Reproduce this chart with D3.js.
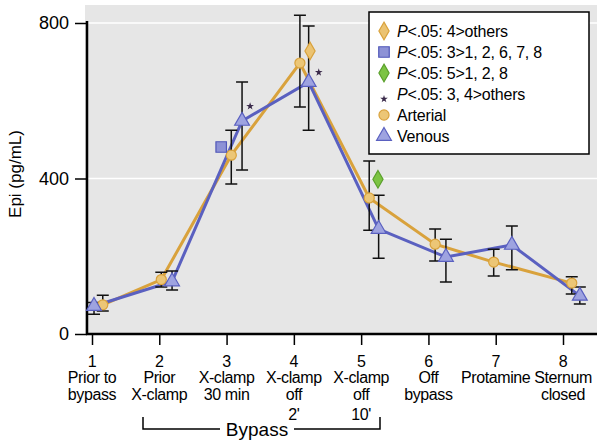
<!DOCTYPE html>
<html lang="en">
  <head>
    <meta charset="UTF-8" />
    <script src="https://d3js.org/d3.v7.min.js"></script>
    <style>
      body { margin: 0; background: #fff; }
      text { font-family: "Liberation Sans", Arial, sans-serif; }
    </style>
  </head>
  <body>
    <script>
      // time points and their labels
      var timepoints = [1, 2, 3, 4, 5, 6, 7, 8]
      var tickLines = [
        ['Prior to', 'bypass'],
        ['Prior', 'X-clamp'],
        ['X-clamp', '30 min'],
        ['X-clamp', 'off', "2'"],
        ['X-clamp', 'off', "10'"],
        ['Off', 'bypass'],
        ['Protamine'],
        ['Sternum', 'closed']
      ]
      var yTicks = [0, 400, 800]

      // arterial series (mean and error bar ends), slightly jittered in x
      var arterialX = [1.16, 2.03, 3.07, 4.09, 5.12, 6.1, 6.97, 8.13]
      var arterialMean = [75, 140, 460, 697, 350, 231, 185, 131]
      var arterialLow = [59, 121, 386, 584, 267, 188, 149, 103]
      var arterialHigh = [100, 159, 524, 820, 445, 270, 218, 147]

      // venous series
      var venousX = [1.03, 2.19, 3.23, 4.22, 5.26, 6.26, 7.24, 8.25]
      var venousMean = [72, 135, 548, 648, 270, 198, 229, 98]
      var venousLow = [51, 113, 422, 524, 195, 134, 165, 77]
      var venousHigh = [81, 162, 648, 792, 357, 244, 278, 121]

      // significance markers: [x, value]
      var diamond4 = [[4.24, 728]]
      var square3 = [[2.92, 481]]
      var diamond5 = [[5.25, 398]]
      var stars = [[3.35, 586], [4.37, 673]]

      var legendItems = [
        { type: 'diamondO', text: '<.05: 4>others', p: true },
        { type: 'square', text: '<.05: 3>1, 2, 6, 7, 8', p: true },
        { type: 'diamondG', text: '<.05: 5>1, 2, 8', p: true },
        { type: 'star', text: '<.05: 3, 4>others', p: true },
        { type: 'circle', text: 'Arterial', p: false },
        { type: 'triangle', text: 'Venous', p: false }
      ]

      var orange = '#d9a23c'
      var orangeFill = '#ecc676'
      var blue = '#5a60c0'
      var blueFill = '#9ea3e0'

      var width = 597
      var height = 440

      var svg = d3.select('body').append('svg')
        .attr('width', width).attr('height', height)

      var x = d3.scaleLinear().domain([1, 8]).range([92, 563])
      var y = d3.scaleLinear().domain([0, 800]).range([334, 23])

      // plot background
      svg.append('rect')
        .attr('x', 85).attr('y', 5)
        .attr('width', width - 85).attr('height', 334 - 5)
        .attr('fill', '#e6e6e6')

      // gridlines
      svg.selectAll('.grid').data([400, 800]).enter().append('line')
        .attr('x1', 87).attr('x2', width)
        .attr('y1', function (d) { return y(d) }).attr('y2', function (d) { return y(d) })
        .attr('stroke', '#fff').attr('stroke-width', 1.5)

      // y axis
      var yAxis = d3.axisLeft(y).tickValues(yTicks).tickSize(12).tickPadding(6)
      var gy = svg.append('g').attr('transform', 'translate(87,0)').call(yAxis)
      gy.select('.domain').remove()
      gy.selectAll('line').attr('stroke', '#000').attr('stroke-width', 1.5)
      gy.selectAll('text').attr('font-size', 18).attr('fill', '#000')
        .style('font-family', '"Liberation Sans", Arial, sans-serif')
      svg.append('line').attr('x1', 87).attr('x2', 87)
        .attr('y1', y(800) - 2).attr('y2', y(0) + 1)
        .attr('stroke', '#000').attr('stroke-width', 2.5)

      // x axis
      var xAxis = d3.axisBottom(x).tickValues(timepoints).tickSize(11).tickFormat('')
      var gx = svg.append('g').attr('transform', 'translate(0,334)').call(xAxis)
      gx.select('.domain').remove()
      gx.selectAll('line').attr('stroke', '#000').attr('stroke-width', 1.5)
      svg.append('line').attr('x1', 86).attr('x2', width)
        .attr('y1', 334).attr('y2', 334)
        .attr('stroke', '#000').attr('stroke-width', 2.5)

      var lineBase = [367, 383, 400, 420]
      timepoints.forEach(function (t, i) {
        var g = svg.append('g').attr('text-anchor', 'middle').attr('font-size', 16)
          .attr('letter-spacing', -0.4)
        g.append('text').attr('x', x(t)).attr('y', lineBase[0]).text(t)
        tickLines[i].forEach(function (s, j) {
          g.append('text').attr('x', x(t)).attr('y', lineBase[j + 1]).text(s)
        })
      })

      // Bypass bracket
      svg.append('path')
        .attr('d', 'M143,417V429H220M294,429H380V417')
        .attr('fill', 'none').attr('stroke', '#000').attr('stroke-width', 1.5)
      svg.append('text').attr('x', 257).attr('y', 436)
        .attr('text-anchor', 'middle').attr('font-size', 19).text('Bypass')

      // panel letter, cut by the lower edge as in the source figure
      svg.append('text').attr('x', 14).attr('y', 452)
        .attr('font-size', 17).attr('font-weight', 'bold').text('A')

      // y title
      svg.append('text')
        .attr('transform', 'translate(21,174) rotate(-90)')
        .attr('text-anchor', 'middle').attr('font-size', 17)
        .text('Epi (pg/mL)')

      function series(xs, ms) {
        return xs.map(function (v, i) { return [v, ms[i]] })
      }
      var art = series(arterialX, arterialMean)
      var ven = series(venousX, venousMean)

      var line = d3.line()
        .x(function (d) { return x(d[0]) })
        .y(function (d) { return y(d[1]) })

      svg.append('path').datum(art).attr('d', line)
        .attr('fill', 'none').attr('stroke', orange).attr('stroke-width', 3)
      svg.append('path').datum(ven).attr('d', line)
        .attr('fill', 'none').attr('stroke', blue).attr('stroke-width', 3)

      // error bars
      function errorBars(xs, lo, hi) {
        var g = svg.append('g').attr('stroke', '#111').attr('stroke-width', 1.5).attr('fill', 'none')
        xs.forEach(function (v, i) {
          var cx = x(v)
          g.append('path').attr('d',
            'M' + (cx - 6) + ',' + y(hi[i]) + 'H' + (cx + 6) +
            'M' + cx + ',' + y(hi[i]) + 'V' + y(lo[i]) +
            'M' + (cx - 6) + ',' + y(lo[i]) + 'H' + (cx + 6))
        })
      }
      errorBars(arterialX, arterialLow, arterialHigh)
      errorBars(venousX, venousLow, venousHigh)

      var sym = {
        circle: { s: d3.symbolCircle, size: 80, fill: orangeFill, stroke: orange },
        triangle: { s: d3.symbolTriangle, size: 95, fill: blueFill, stroke: blue },
        square: { s: d3.symbolSquare, size: 110, fill: '#8d92d6', stroke: '#4f56b8' },
        diamondO: { s: d3.symbolDiamond, size: 90, fill: '#ebc372', stroke: '#d9a23c' },
        diamondG: { s: d3.symbolDiamond, size: 90, fill: '#7cc443', stroke: '#5ba02c' },
        star: { s: d3.symbolStar, size: 5, fill: '#3a2a4a', stroke: '#3a2a4a' }
      }

      function drawMarks(data, type) {
        var m = sym[type]
        svg.selectAll(null).data(data).enter().append('path')
          .attr('transform', function (d) {
            return 'translate(' + x(d[0]) + ',' + y(d[1]) + ')'
          })
          .attr('d', d3.symbol().type(m.s).size(m.size))
          .attr('fill', m.fill).attr('stroke', m.stroke).attr('stroke-width', 1.2)
      }
      drawMarks(art, 'circle')
      drawMarks(ven, 'triangle')
      drawMarks(square3, 'square')
      drawMarks(diamond4, 'diamondO')
      drawMarks(diamond5, 'diamondG')
      drawMarks(stars, 'star')

      // legend
      var lg = svg.append('g')
      lg.append('rect').attr('x', 369).attr('y', 12)
        .attr('width', 220).attr('height', 142)
        .attr('fill', '#fff').attr('stroke', '#000').attr('stroke-width', 1.5)
      legendItems.forEach(function (item, i) {
        var cy = 31 + i * 21
        var m = sym[item.type]
        lg.append('path')
          .attr('transform', 'translate(384,' + (item.type === 'star' ? cy + 5 : cy) + ')')
          .attr('d', d3.symbol().type(m.s).size(m.size))
          .attr('fill', m.fill).attr('stroke', m.stroke).attr('stroke-width', 1.2)
        var t = lg.append('text').attr('x', 397).attr('y', cy + 6)
          .attr('font-size', 16).attr('letter-spacing', -0.2)
        if (item.p) t.append('tspan').attr('font-style', 'italic').text('P')
        t.append('tspan').text(item.text)
      })
    </script>
  </body>
</html>
